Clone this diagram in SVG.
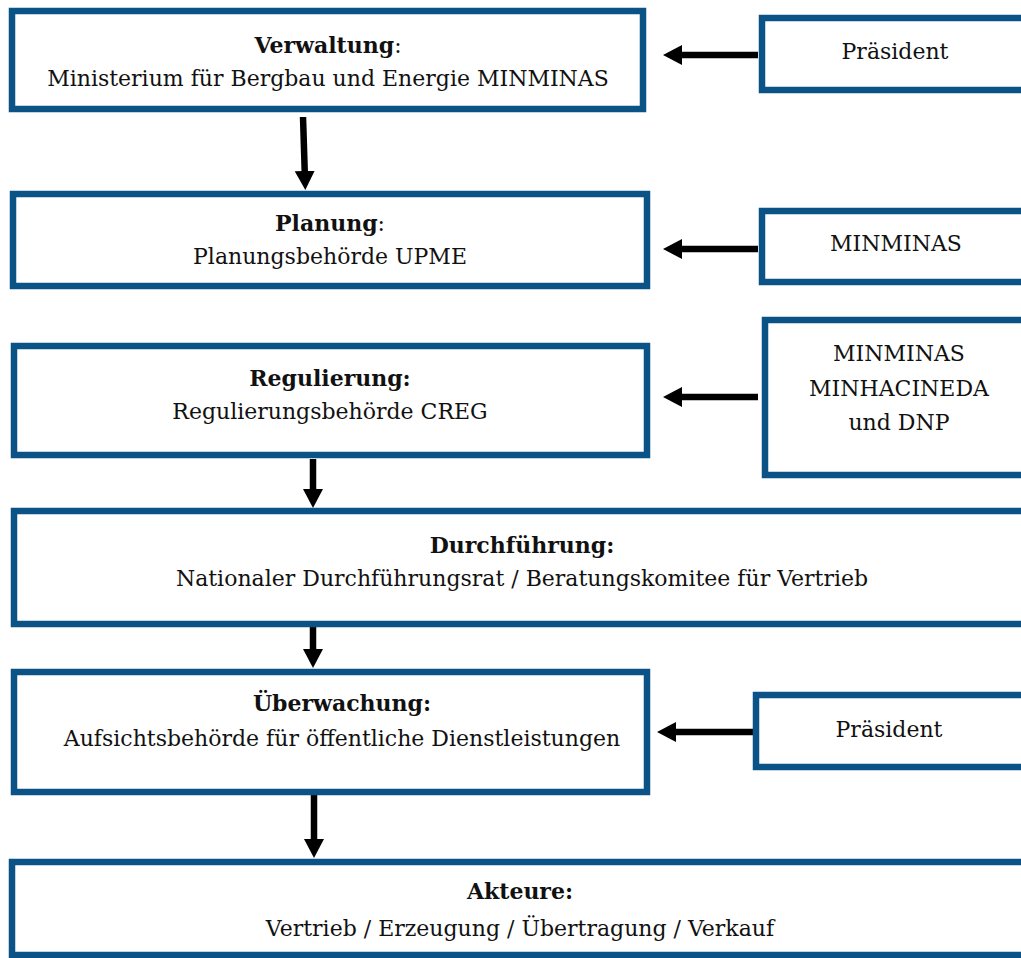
<svg xmlns="http://www.w3.org/2000/svg" width="1021" height="958" viewBox="0 0 1021 958">
<style>
.box{fill:#fff;stroke:#0B5387;stroke-width:6.5}
.t{font-family:"DejaVu Serif","Liberation Serif",serif;font-size:22px;fill:#111;text-anchor:middle}
.b{font-weight:bold}
.c{stroke:#000;stroke-width:6.5;fill:none}
</style>
<defs>
<marker id="ah" markerUnits="userSpaceOnUse" markerWidth="20" markerHeight="22" refX="9" refY="10" orient="auto">
<path d="M0,0 L19,10 L0,20 Z" fill="#000"/>
</marker>
</defs>
<rect width="1021" height="958" fill="#fff"/>
<g id="connectors">
<path class="c" d="M303,117 L305,180" marker-end="url(#ah)"/>
<path class="c" d="M313,459 L313,498" marker-end="url(#ah)"/>
<path class="c" d="M313,627 L313,658" marker-end="url(#ah)"/>
<path class="c" d="M314,795 L314,848" marker-end="url(#ah)"/>
<path class="c" d="M758,55 L673,55" marker-end="url(#ah)"/>
<path class="c" d="M758,249 L673,249" marker-end="url(#ah)"/>
<path class="c" d="M758,397 L673,397" marker-end="url(#ah)"/>
<path class="c" d="M753,732 L667,732" marker-end="url(#ah)"/>
</g>
<g id="verwaltung">
<rect class="box" x="12" y="11" width="631" height="98"/>
<text class="t" x="328" y="53"><tspan class="b">Verwaltung</tspan>:</text>
<text class="t" x="328" y="86">Ministerium für Bergbau und Energie MINMINAS</text>
</g>
<g id="planung">
<rect class="box" x="13" y="194" width="634" height="92"/>
<text class="t" x="330" y="231"><tspan class="b">Planung</tspan>:</text>
<text class="t" x="330" y="264">Planungsbehörde UPME</text>
</g>
<g id="regulierung">
<rect class="box" x="14" y="346" width="633" height="109"/>
<text class="t b" x="330" y="386">Regulierung:</text>
<text class="t" x="330" y="419">Regulierungsbehörde CREG</text>
</g>
<g id="durchfuehrung">
<rect class="box" x="14" y="511" width="1020" height="113"/>
<text class="t b" x="522" y="553">Durchführung:</text>
<text class="t" x="522" y="586">Nationaler Durchführungsrat / Beratungskomitee für Vertrieb</text>
</g>
<g id="ueberwachung">
<rect class="box" x="14" y="672" width="633" height="120"/>
<text class="t b" x="342" y="711">Überwachung:</text>
<text class="t" x="342" y="746">Aufsichtsbehörde für öffentliche Dienstleistungen</text>
</g>
<g id="akteure">
<rect class="box" x="12" y="862" width="1022" height="93"/>
<text class="t b" x="520" y="899">Akteure:</text>
<text class="t" x="520" y="936">Vertrieb / Erzeugung / Übertragung / Verkauf</text>
</g>
<g id="praesident1">
<rect class="box" x="762" y="18" width="270" height="72"/>
<text class="t" x="895" y="59">Präsident</text>
</g>
<g id="minminas">
<rect class="box" x="762" y="211" width="270" height="71"/>
<text class="t" x="896" y="251">MINMINAS</text>
</g>
<g id="minminas3">
<rect class="box" x="765" y="320" width="270" height="155"/>
<text class="t" x="899" y="361">MINMINAS</text>
<text class="t" x="899" y="396">MINHACINEDA</text>
<text class="t" x="899" y="430">und DNP</text>
</g>
<g id="praesident2">
<rect class="box" x="756" y="695" width="280" height="72"/>
<text class="t" x="889" y="737">Präsident</text>
</g>
</svg>
